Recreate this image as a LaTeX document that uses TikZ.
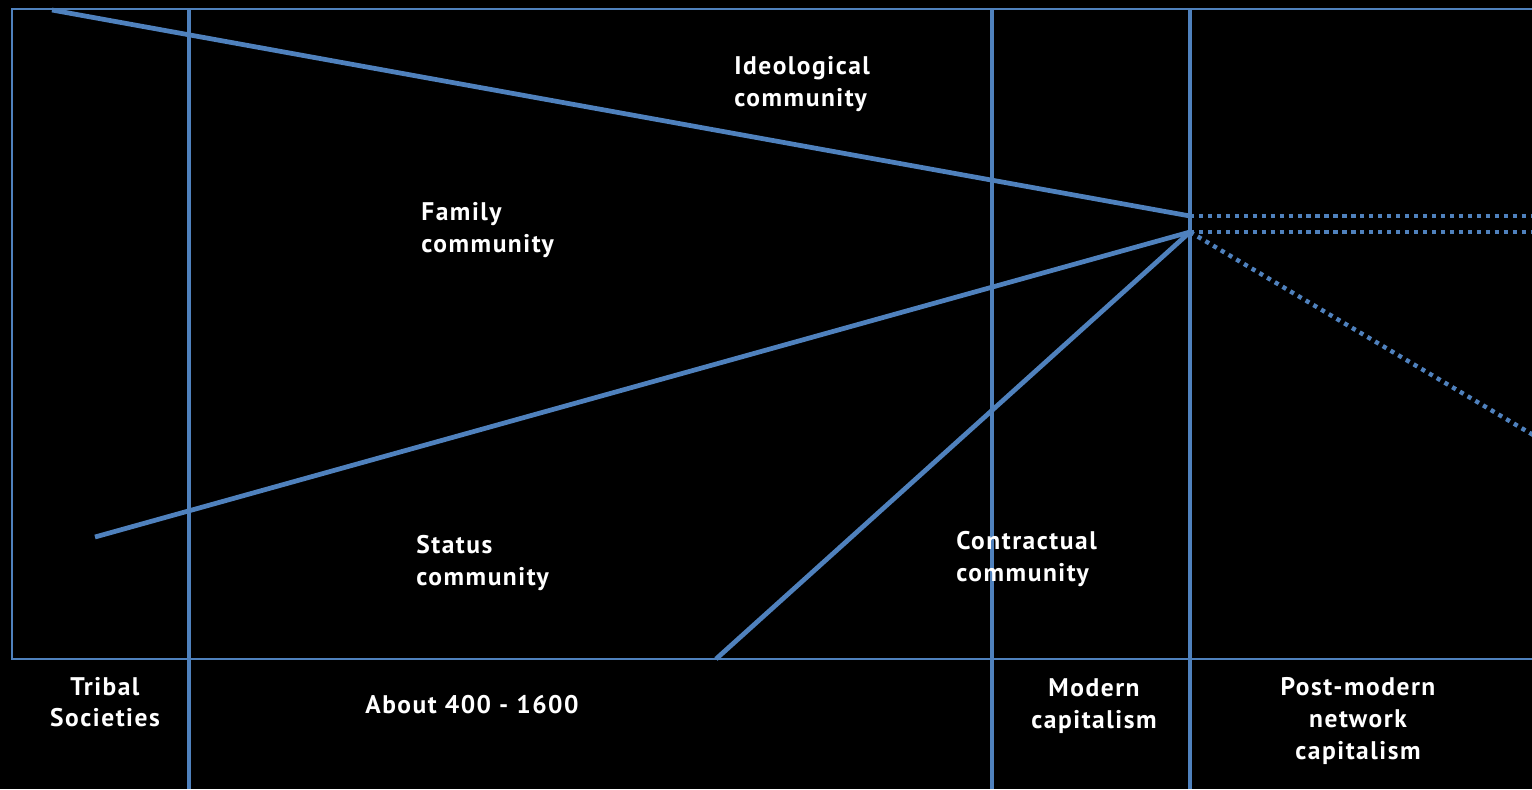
\documentclass[tikz,border=0pt]{standalone}
\usepackage{fontspec}
\setmainfont{PT Sans}[LetterSpace=6]
\definecolor{lineblue}{HTML}{4F81BD}

\begin{document}
\begin{tikzpicture}[x=0.02cm,y=-0.02cm,
		thick line/.style={line width=2.7pt, color=lineblue},
		thin line/.style={line width=1.2pt, color=lineblue},
		dot line/.style={line width=2.5pt, color=lineblue, dash pattern=on 2.4pt off 2.7pt},
		lbl/.style={text=white, font=\bfseries\fontsize{14.5}{18}\selectfont, inner sep=0pt, align=left, anchor=north west},
		era/.style={text=white, font=\bfseries\fontsize{14.5}{18}\selectfont, inner sep=0pt, align=center}]
		%%%%% START %%%%%
		
		\fill[black] (0,0) rectangle (1532,789);
		\clip (0,0) rectangle (1532,789);
		
		\draw[thin line] (12,9) rectangle (1545,659);
		
		\draw[thick line] (189,9) -- (189,789);
		\draw[thick line] (992,9) -- (992,789);
		\draw[thick line] (1190,9) -- (1190,789);
		
		\coordinate (ideo) at (52,10);
		\coordinate (fam) at (95,537);
		\coordinate (contr) at (716,659);
		\coordinate (top) at (1190,216);
		\coordinate (mid) at (1190,232);
		\coordinate (endA) at (1545,216);
		\coordinate (endB) at (1545,232);
		\coordinate (endC) at (1545,442);
		
		\draw[thick line] (ideo) -- (top);
		\draw[thick line] (fam) -- (mid);
		\draw[thick line] (contr) -- (mid);
		
		\draw[dot line] (top) -- (endA);
		\draw[dot line] (mid) -- (endB);
		\draw[dot line] (mid) -- (endC);
		
		\node[lbl] (ideolabel) at (734,56) {Ideological\\community};
		\node[lbl] (famlabel) at (421,202) {Family\\community};
		\node[lbl] (statlabel) at (416,535) {Status\\community};
		\node[lbl] (contrlabel) at (956,531) {Contractual\\community};
		
		\node[era] (tribal) at (105,702) {Tribal\\Societies};
		\node[era] (middle) at (472,705) {About 400 - 1600};
		\node[era] (modern) at (1094,706) {Modern\\capitalism};
		\node[era] (postmod) at (1358,721) {Post-modern\\network\\capitalism};
		
		%%%%% END %%%%%
	\end{tikzpicture}
\end{document}
